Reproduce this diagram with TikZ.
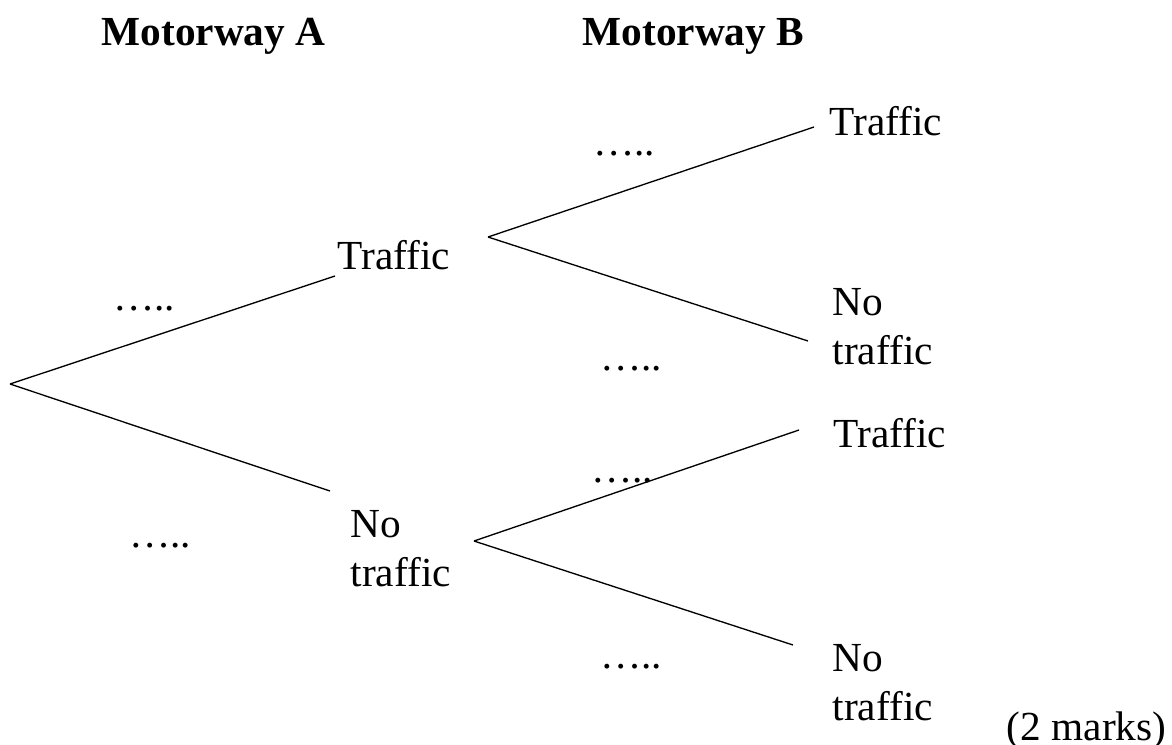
\documentclass[tikz,border=0pt]{standalone}
\usepackage{fontspec}
\setmainfont{Liberation Serif}
\usepackage{tikz}
\usetikzlibrary{positioning}

\begin{document}
\begin{tikzpicture}[
  x=0.3pt, y=-0.3pt,
  every node/.style={inner sep=0pt, font=\fontsize{12.4}{14.7}\selectfont},
  head/.style={anchor=base west, font=\fontsize{12.4}{14.7}\selectfont\bfseries},
  lbl/.style={anchor=base west},
  twoline/.style={anchor=north west, align=left},
  prob/.style={anchor=base},
  branch/.style={thin, black},
]
  \useasboundingbox (0,0) rectangle (1172,744);

  % column headings
  \node[head] (headA) at (101,45) {Motorway A};
  \node[head] (headB) at (582,45) {Motorway B};

  % Motorway A outcomes
  \coordinate (root) at (10,384);
  \coordinate (aUp) at (335,276);
  \coordinate (aDn) at (330,491);
  \node[lbl] (aT) at (337,269) {Traffic};
  \node[twoline] (aN) at (350,510) {No\\traffic};
  \node[prob] (pAT) at (144,310) {…..};
  \node[prob] (pAN) at (160,547) {…..};

  % Motorway B after traffic on A
  \coordinate (bUp) at (488,237);
  \coordinate (bUpT) at (814,127);
  \coordinate (bUpN) at (808,341);
  \node[lbl] (bTT) at (829,135) {Traffic};
  \node[twoline] (bTN) at (832,288) {No\\traffic};
  \node[prob] (pTT) at (624,155) {…..};
  \node[prob] (pTN) at (631,370) {…..};

  % Motorway B after no traffic on A
  \coordinate (bDn) at (474,541);
  \coordinate (bDnT) at (799,430);
  \coordinate (bDnN) at (793,645);
  \node[lbl] (bNT) at (833,447) {Traffic};
  \node[twoline] (bNN) at (832,644) {No\\traffic};
  \node[prob] (pNT) at (622,482) {…..};
  \node[prob] (pNN) at (631,668) {…..};

  \node[anchor=base east] (marks) at (1167,740) {(2 marks)};

  % branches
  \draw[branch] (root) -- (aUp);
  \draw[branch] (root) -- (aDn);
  \draw[branch] (bUp) -- (bUpT);
  \draw[branch] (bUp) -- (bUpN);
  \draw[branch] (bDn) -- (bDnT);
  \draw[branch] (bDn) -- (bDnN);
\end{tikzpicture}
\end{document}
